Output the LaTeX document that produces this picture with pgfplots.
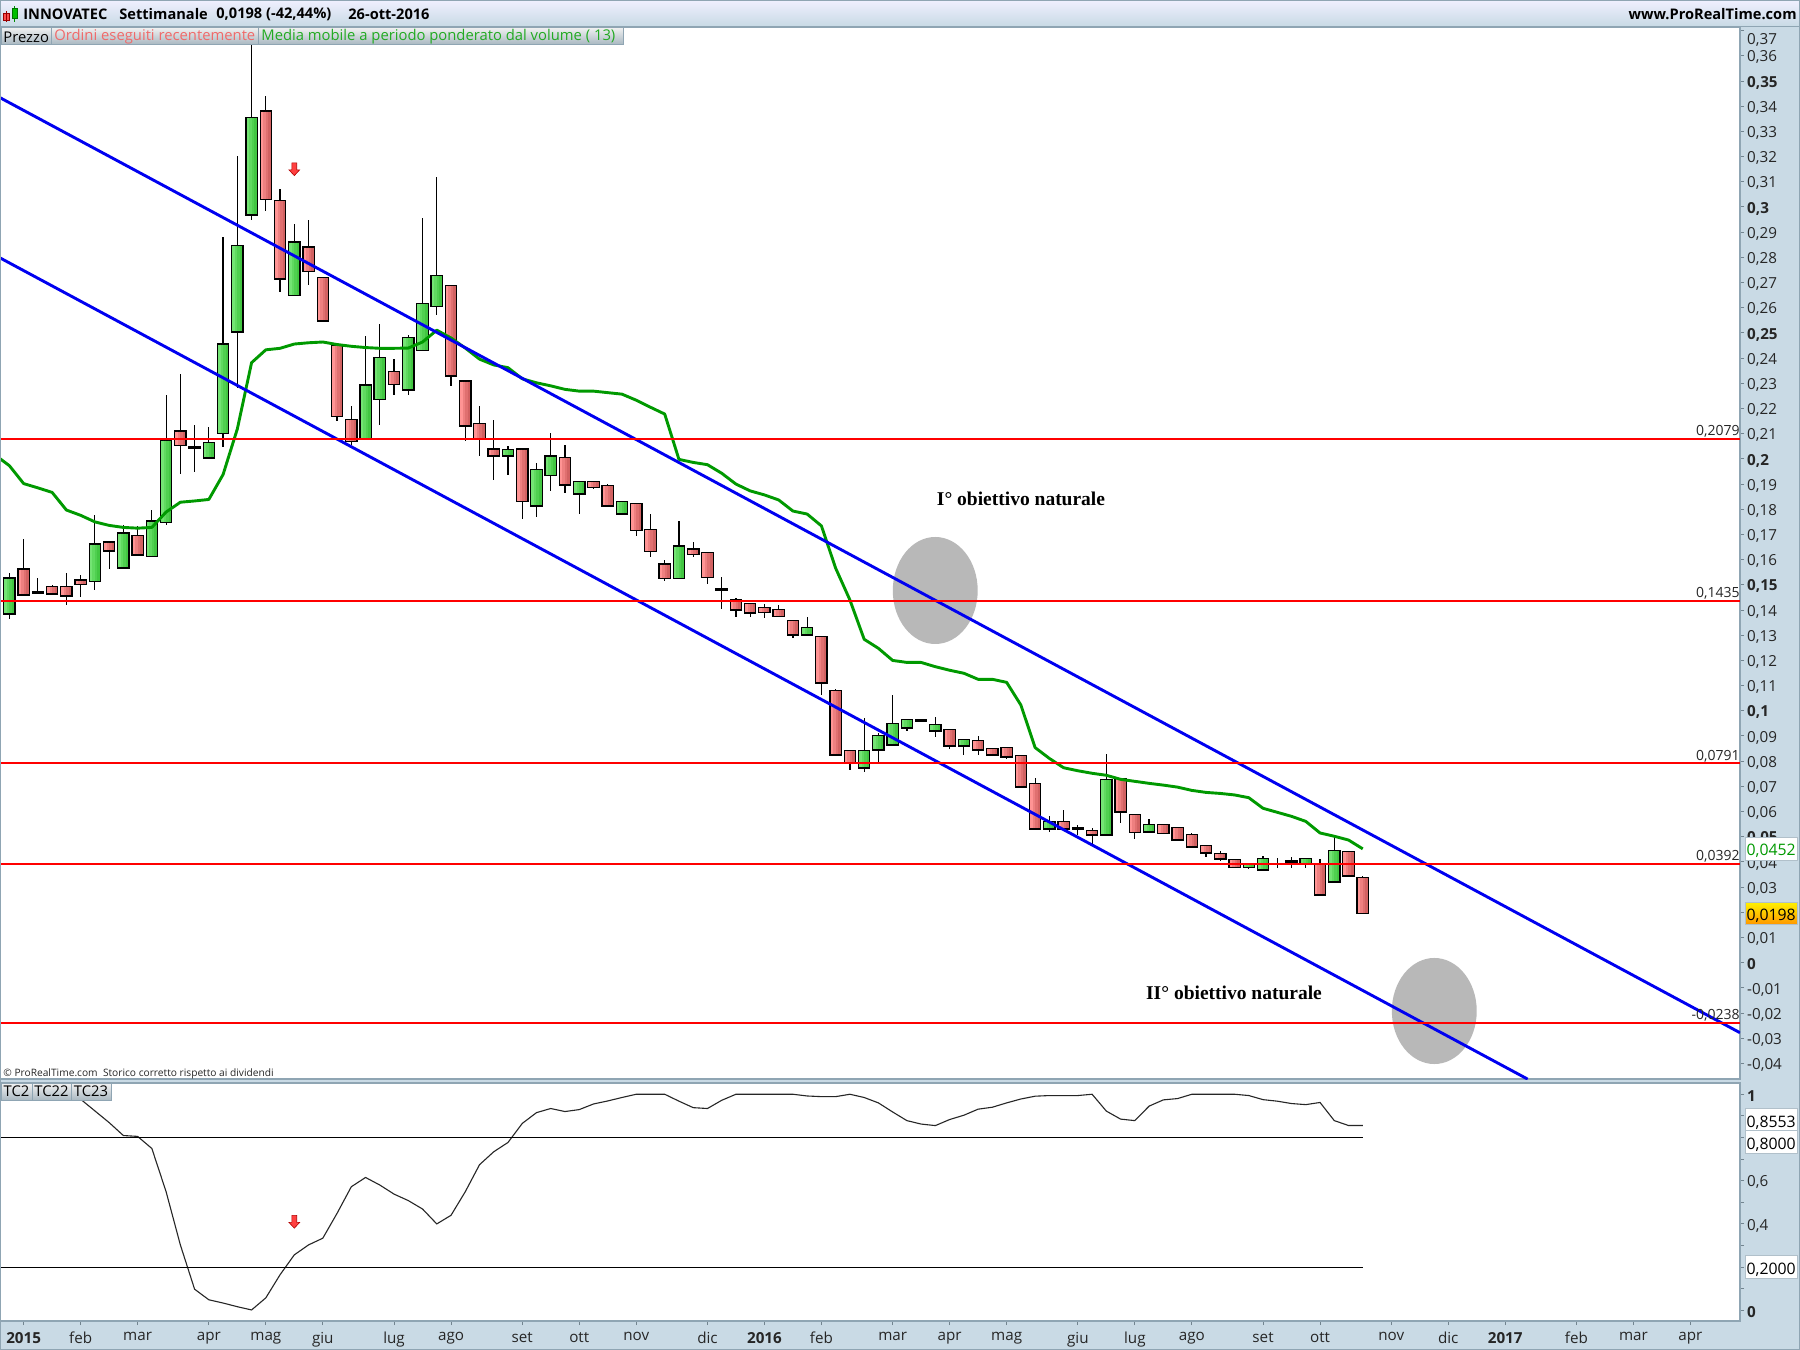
\documentclass[border=0pt]{standalone}
\usepackage{fontspec}
\usepackage{pgfplots}
\usepackage{pgfplotstable}
\pgfplotsset{compat=1.18}
\setmainfont{Open Sans}
\newfontfamily\notefont{Liberation Serif}

\definecolor{band}{HTML}{C9DAE5}
\definecolor{edge}{HTML}{8FA5B3}
\definecolor{mavg}{HTML}{009900}
\definecolor{chan}{HTML}{0000F0}
\definecolor{ordini}{HTML}{F06A6A}
\definecolor{mediatxt}{HTML}{22AA22}
\definecolor{gA}{HTML}{74E474}
\definecolor{gB}{HTML}{60DA60}
\definecolor{gC}{HTML}{50D050}
\definecolor{gD}{HTML}{42C642}
\definecolor{rA}{HTML}{FF9494}
\definecolor{rB}{HTML}{EE8080}
\definecolor{rC}{HTML}{E07070}
\definecolor{rD}{HTML}{D26262}

% weekly candles: i = week number, o h l c
\pgfplotstableread{
i o h l c
0 .1387 .1546 .1365 .1525
6 .1517 .1776 .1480 .1660
8 .1569 .1739 .1569 .1703
10 .1616 .1797 .1616 .1751
11 .1751 .2254 .1737 .2073
14 .2006 .2126 .2006 .2062
15 .2104 .2881 .2048 .2454
16 .2506 .3202 .2283 .2844
17 .2971 .3780 .2950 .3352
20 .2652 .2932 .2652 .2859
25 .2084 .2486 .2084 .2291
26 .2239 .2535 .2134 .2400
28 .2276 .2491 .2255 .2478
29 .2434 .2957 .2434 .2613
30 .2608 .3119 .2571 .2725
35 .2014 .2051 .1938 .2034
37 .1816 .1982 .1770 .1954
38 .1938 .2104 .1872 .2009
40 .1863 .1907 .1781 .1907
43 .1784 .1827 .1784 .1827
47 .1527 .1753 .1527 .1652
56 .1303 .1371 .1303 .1327
60 .0775 .0970 .0758 .0839
61 .0847 .0910 .0795 .0899
62 .0867 .1061 .0860 .0946
63 .0934 .0966 .0921 .0962
65 .0922 .0974 .0896 .0942
67 .0863 .0883 .0824 .0883
73 .0533 .0582 .0520 .0557
77 .0509 .0828 .0509 .0724
80 .0521 .0569 .0521 .0545
87 .0379 .0394 .0371 .0386
88 .0371 .0422 .0371 .0410
91 .0392 .0417 .0377 .0410
93 .0323 .0498 .0323 .0442
}\upcandles
\pgfplotstableread{
i o h l c
1 .1560 .1682 .1462 .1462
3 .1492 .1499 .1458 .1466
4 .1492 .1546 .1420 .1458
5 .1517 .1538 .1451 .1505
7 .1668 .1668 .1564 .1637
9 .1692 .1734 .1621 .1621
12 .2108 .2337 .1941 .2057
18 .3379 .3440 .2985 .3031
19 .3023 .3071 .2663 .2717
21 .2839 .2947 .2691 .2745
22 .2717 .2723 .2550 .2550
23 .2447 .2447 .2150 .2172
24 .2153 .2210 .2056 .2073
27 .2343 .2396 .2255 .2299
31 .2685 .2685 .2291 .2332
32 .2307 .2307 .2073 .2133
33 .2137 .2210 .2012 .2084
34 .2037 .2155 .1916 .2014
36 .2037 .2037 .1762 .1834
39 .2002 .2056 .1864 .1899
41 .1907 .1913 .1880 .1889
42 .1891 .1899 .1816 .1816
44 .1819 .1819 .1692 .1717
45 .1717 .1781 .1609 .1634
46 .1580 .1597 .1514 .1527
48 .1640 .1670 .1609 .1624
49 .1625 .1625 .1503 .1532
51 .1439 .1446 .1374 .1403
52 .1423 .1423 .1374 .1391
53 .1407 .1424 .1370 .1393
54 .1399 .1419 .1376 .1376
55 .1355 .1355 .1290 .1303
57 .1292 .1292 .1063 .1113
58 .1077 .1085 .0827 .0827
59 .0839 .0839 .0766 .0794
66 .0922 .0922 .0850 .0863
68 .0879 .0900 .0824 .0847
69 .0847 .0847 .0827 .0827
70 .0851 .0851 .0810 .0819
71 .0819 .0819 .0696 .0700
72 .0708 .0733 .0533 .0533
74 .0557 .0606 .0533 .0533
76 .0521 .0533 .0470 .0509
78 .0728 .0732 .0556 .0601
79 .0585 .0585 .0491 .0518
81 .0545 .0549 .0509 .0514
82 .0533 .0533 .0490 .0490
83 .0506 .0514 .0454 .0462
84 .0462 .0462 .0420 .0438
85 .0430 .0442 .0405 .0414
86 .0406 .0406 .0379 .0379
92 .0392 .0412 .0271 .0271
94 .0438 .0438 .0339 .0347
95 .0335 .0343 .0198 .0198
}\downcandles
\pgfplotstableread{
i o h l c
2 .1470 .1527 .1467 .1470
13 .2046 .2134 .1946 .2046
50 .1482 .1530 .1405 .1482
64 .0962 .0962 .0962 .0962
75 .0532 .0547 .0507 .0532
89 .0392 .0414 .0377 .0392
90 .0401 .0420 .0377 .0401
}\flatcandles

% volume weighted moving average (13)
\pgfplotstableread{
i v
-0.66 .2001
0 .1973
1 .1902
2 .1885
3 .1867
4 .1797
5 .1776
6 .1750
7 .1736
8 .1728
9 .1725
10 .1728
11 .1789
12 .1828
13 .1833
14 .1839
15 .1938
16 .2119
17 .2382
18 .2433
19 .2439
20 .2456
21 .2461
22 .2464
23 .2454
24 .2447
25 .2442
26 .2439
27 .2439
28 .2440
29 .2464
30 .2511
31 .2480
32 .2440
33 .2396
34 .2373
35 .2362
36 .2318
37 .2302
38 .2290
39 .2276
40 .2269
41 .2269
42 .2263
43 .2257
44 .2233
45 .2205
46 .2178
47 .1998
48 .1986
49 .1977
50 .1943
51 .1900
52 .1873
53 .1857
54 .1837
55 .1793
56 .1781
57 .1734
58 .1566
59 .1440
60 .1284
61 .1248
62 .1200
63 .1192
64 .1192
65 .1175
66 .1161
67 .1149
68 .1125
69 .1125
70 .1113
71 .1023
72 .0854
73 .0811
74 .0774
75 .0762
76 .0752
77 .0744
78 .0728
79 .0720
80 .0712
81 .0705
82 .0697
83 .0684
84 .0676
85 .0672
86 .0666
87 .0655
88 .0613
89 .0597
90 .0581
91 .0561
92 .0515
93 .0502
94 .0487
95 .0452
}\mavgdata

% lower panel indicator
\pgfplotstableread{
i v
4 1
5 .977
6 .923
7 .869
8 .809
9 .805
10 .749
11 .549
12 .303
13 .098
14 .049
15 .034
16 .017
17 .002
18 .058
19 .165
20 .257
21 .303
22 .334
23 .449
24 .572
25 .615
26 .580
27 .538
28 .508
29 .469
30 .400
31 .440
32 .549
33 .674
34 .734
35 .777
36 .865
37 .915
38 .934
39 .920
40 .929
41 .955
42 .969
43 .985
44 1
45 1
46 1
47 .968
48 .938
49 .934
50 .972
51 1
52 1
53 1
54 1
55 1
56 .992
57 .989
58 .989
59 1
60 .985
61 .960
62 .918
63 .878
64 .862
65 .855
66 .883
67 .903
68 .931
69 .940
70 .960
71 .978
72 .991
73 .994
74 .994
75 .994
76 1
77 .922
78 .885
79 .878
80 .945
81 .974
82 .980
83 1
84 1
85 1
86 1
87 .994
88 .975
89 .968
90 .957
91 .952
92 .962
93 .878
94 .8553
95 .8553
}\tcdata

\pgfdeclareplotmark{sellarrow}{%
  \pgfpathmoveto{\pgfpoint{-1.2pt}{3.2pt}}
  \pgfpathlineto{\pgfpoint{1.2pt}{3.2pt}}
  \pgfpathlineto{\pgfpoint{1.2pt}{-0.3pt}}
  \pgfpathlineto{\pgfpoint{2.7pt}{-0.3pt}}
  \pgfpathlineto{\pgfpoint{0pt}{-3.2pt}}
  \pgfpathlineto{\pgfpoint{-2.7pt}{-0.3pt}}
  \pgfpathlineto{\pgfpoint{-1.2pt}{-0.3pt}}
  \pgfpathclose
  \pgfusepathqfillstroke}
% an empty mark, for the candles only the error bars are wanted
\pgfdeclareplotmark{nothing}{}

% wick of every candle of a table
\newcommand{\wicks}[1]{%
  \addplot[only marks,mark=nothing,forget plot,
    error bars/.cd,y dir=both,y explicit,error mark=nothing,
    error bar style={draw=black,line width=.6pt}]
  table[x=i,y=c,y error plus expr={\thisrow{h}-\thisrow{c}},y error minus expr={\thisrow{c}-\thisrow{l}}] {#1};}
% black box round the body, one pixel or so beyond it
\newcommand{\bodybox}[1]{%
  \addplot[only marks,mark=nothing,forget plot,
    error bars/.cd,y dir=both,y explicit,error mark=nothing,
    error bar style={draw=black,line width=6.3pt}]
  table[x=i,y expr={max(\thisrow{o},\thisrow{c})},y error plus expr=0.0005,y error minus expr={abs(\thisrow{o}-\thisrow{c})+0.0005}] {#1};}
% one vertical strip of the body, four of them make the gradient
\newcommand{\bodystrip}[3]{%
  \addplot[only marks,mark=nothing,forget plot,
    error bars/.cd,y dir=both,y explicit,error mark=nothing,
    error bar style={draw=#2,line width=1.3pt,xshift=#3}]
  table[x=i,y expr={max(\thisrow{o},\thisrow{c})},y error plus expr=0,y error minus expr={abs(\thisrow{o}-\thisrow{c})}] {#1};}

\pgfplotsset{
  panel/.style={
    scale only axis,width=870pt,
    xmin=-0.66,xmax=121.48,
    axis background/.style={fill=white},
    axis line style={draw=edge,line width=.7pt},
    tick style={draw=edge!80!black,line width=.5pt},
    major tick length=2pt,
    tick align=outside,
    ytick pos=right,
    yticklabel pos=right,
    tick label style={font=\fontsize{7.6}{9}\selectfont,text=black!85},
    yticklabel style={anchor=west,inner sep=0pt,xshift=1.4pt,yshift=-0.8pt},
  },
}

\begin{document}
\begin{tikzpicture}[x=0.5pt,y=-0.5pt]
\useasboundingbox (0,0) rectangle (1800,1350);
\fill[band] (0,0) rectangle (1800,1350);
\shade[top color=blue!6!white,bottom color=band] (0,0) rectangle (1800,26);
\draw[edge,line width=.6pt] (0,26.5) -- (1800,26.5);

\begin{axis}[panel,
    at={(0pt,-539.5pt)},anchor=south west,height=526pt,
    ymin=-0.04617,ymax=0.37145,
    xtick=\empty,
    ytick={-0.04,-0.03,-0.02,-0.01,0,0.01,0.02,0.03,0.04,0.05,0.06,0.07,0.08,0.09,0.1,0.11,0.12,0.13,0.14,0.15,0.16,0.17,0.18,0.19,0.2,0.21,0.22,0.23,0.24,0.25,0.26,0.27,0.28,0.29,0.3,0.31,0.32,0.33,0.34,0.35,0.36,0.37},
    yticklabels={{-0,04},{-0,03},{-0,02},{-0,01},\textbf{0},{0,01},{0,02},{0,03},{0,04},\textbf{0,05},{0,06},{0,07},{0,08},{0,09},\textbf{0,1},{0,11},{0,12},{0,13},{0,14},\textbf{0,15},{0,16},{0,17},{0,18},{0,19},\textbf{0,2},{0,21},{0,22},{0,23},{0,24},\textbf{0,25},{0,26},{0,27},{0,28},{0,29},\textbf{0,3},{0,31},{0,32},{0,33},{0,34},\textbf{0,35},{0,36},\smash{\raisebox{-6.1pt}{0,37}}},
  ]
  % target zones
  \fill[black!28] (axis cs:64.99,.14776) ellipse [x radius=2.98,y radius=.02124];
  \fill[black!28] (axis cs:100.02,-.01917) ellipse [x radius=2.98,y radius=.02105];

  \wicks{\upcandles}
  \wicks{\downcandles}
  \wicks{\flatcandles}
  \bodybox{\upcandles}
  \bodystrip{\upcandles}{gA}{-1.875pt}
  \bodystrip{\upcandles}{gB}{-0.625pt}
  \bodystrip{\upcandles}{gC}{0.625pt}
  \bodystrip{\upcandles}{gD}{1.875pt}
  \bodybox{\downcandles}
  \bodystrip{\downcandles}{rA}{-1.875pt}
  \bodystrip{\downcandles}{rB}{-0.625pt}
  \bodystrip{\downcandles}{rC}{0.625pt}
  \bodystrip{\downcandles}{rD}{1.875pt}
  \bodybox{\flatcandles}

  \addplot[mavg,line width=1.45pt,line join=round,forget plot] table[x=i,y=v] {\mavgdata};

  % falling channel
  \addplot[chan,line width=1.45pt,forget plot] coordinates {(-0.66,.3434) (121.48,-.0278)};
  \addplot[chan,line width=1.45pt,forget plot] coordinates {(-0.66,.2798) (106.57,-.0462)};

  % levels
  \addplot[red,line width=1pt,forget plot] coordinates {(-0.66,.2079) (121.48,.2079)};
  \addplot[red,line width=1pt,forget plot] coordinates {(-0.66,.1435) (121.48,.1435)};
  \addplot[red,line width=1pt,forget plot] coordinates {(-0.66,.0791) (121.48,.0791)};
  \addplot[red,line width=1pt,forget plot] coordinates {(-0.66,.0392) (121.48,.0392)};
  \addplot[red,line width=1pt,forget plot] coordinates {(-0.66,-.0238) (121.48,-.0238)};

  % executed order
  \addplot[only marks,mark=sellarrow,mark options={fill=red!75!white,draw=red!70!black,line width=.3pt},forget plot]
    coordinates {(20,.315)};
\end{axis}

\begin{axis}[panel,
    at={(0pt,-660.5pt)},anchor=south west,height=119pt,
    ymin=-0.0492,ymax=1.052,
    xtick pos=bottom,
    xticklabel pos=bottom,
    xtick={1,5,9,14,18,22,27,31,36,40,44,49,53,57,62,66,70,75,79,83,88,92,97,101,105,110,114,118},
    xticklabels={\textbf{2015},feb,mar,apr,mag,giu,lug,ago,set,ott,nov,dic,\textbf{2016},feb,mar,apr,mag,giu,lug,ago,set,ott,nov,dic,\textbf{2017},feb,mar,apr},
    ytick={0,0.1,0.2,0.3,0.4,0.5,0.6,0.7,0.8,0.9,1},
    yticklabels={\textbf{0},,,,{0,4},,{0,6},,,,\textbf{1}},
  ]
  \addplot[black!85,line width=.55pt,forget plot] table[x=i,y=v] {\tcdata};
  \addplot[black,line width=.6pt,forget plot] coordinates {(-0.66,.8) (95,.8)};
  \addplot[black,line width=.6pt,forget plot] coordinates {(-0.66,.2) (95,.2)};
  \addplot[only marks,mark=sellarrow,mark options={fill=red!75!white,draw=red!70!black,line width=.3pt},forget plot]
    coordinates {(20,.41)};
\end{axis}

% top bar
\fill[red!70!white,draw=red!60!black,line width=.3pt] (3.7,13) rectangle (9.3,20);
\draw[red!60!black,line width=.4pt] (6.5,11) -- (6.5,22);
\draw[green!55!black,line width=.5pt] (14.7,6) -- (14.7,22);
\fill[green!75!black,draw=green!45!black,line width=.3pt] (12,8.7) rectangle (17.3,18.3);
\begin{scope}[every node/.style={inner sep=0pt,font=\fontsize{7.3}{10}\selectfont\bfseries,text=black}]
  \node[anchor=west] at (23,14) {INNOVATEC};
  \node[anchor=west] at (119,14) {Settimanale};
  \node[anchor=west] at (216,14) {0,0198 (-42,44\%)};
  \node[anchor=west] at (348,14) {26-ott-2016};
  \node[anchor=east] at (1797,14) {www.ProRealTime.com};
\end{scope}

% indicator titles
\begin{scope}[every node/.style={inner sep=0pt,font=\fontsize{7.4}{9}\selectfont}]
  \shade[top color=black!5,bottom color=band!85!black,draw=edge,line width=.4pt] (1,27) rectangle (51.5,44);
  \shade[top color=black!5,bottom color=band!85!black,draw=edge,line width=.4pt] (51.5,27) rectangle (258.5,44);
  \shade[top color=black!5,bottom color=band!85!black,draw=edge,line width=.4pt] (258.5,27) rectangle (623,44);
  \node[anchor=west] at (3,37) {Prezzo};
  \node[anchor=west,text=ordini] at (54,37) {Ordini eseguiti recentemente};
  \node[anchor=west,text=mediatxt] at (261,37) {Media mobile a periodo ponderato dal volume ( 13)};
  \shade[top color=black!5,bottom color=band!85!black,draw=edge,line width=.4pt] (1,1083) rectangle (32,1100);
  \shade[top color=black!5,bottom color=band!85!black,draw=edge,line width=.4pt] (32,1083) rectangle (71,1100);
  \shade[top color=black!5,bottom color=band!85!black,draw=edge,line width=.4pt] (71,1083) rectangle (111,1100);
  \node[anchor=center] at (16.5,1091.5) {TC2};
  \node[anchor=center] at (51.5,1091.5) {TC22};
  \node[anchor=center] at (91,1091.5) {TC23};
\end{scope}

% level labels
\begin{scope}[every node/.style={inner sep=0pt,anchor=east,font=\fontsize{7}{9}\selectfont,text=black!85}]
  \node at (1740,431) {0,2079};
  \node at (1740,593) {0,1435};
  \node at (1740,756) {0,0791};
  \node at (1740,856.5) {0,0392};
  \node at (1740,1015.5) {-0,0238};
\end{scope}

% value boxes on the price scale
\begin{scope}[every node/.style={inner sep=0pt,font=\fontsize{7.9}{9}\selectfont}]
  \draw[edge!70,line width=.4pt,fill=white] (1745.5,837) rectangle (1797,860);
  \node[text=mavg] at (1771.2,851) {0,0452};
  \shade[top color=yellow!90!orange,bottom color=orange!80!yellow,draw=edge!70,line width=.4pt] (1745.5,902) rectangle (1797,924);
  \node at (1771.2,916) {0,0198};
  \draw[edge!70,line width=.4pt,fill=white] (1745.5,1108.7) rectangle (1797,1130.7);
  \node at (1771.2,1122.5) {0,8553};
  \draw[edge!70,line width=.4pt,fill=white] (1745.5,1130.7) rectangle (1797,1153);
  \node at (1771.2,1145) {0,8000};
  \draw[edge!70,line width=.4pt,fill=white] (1745.5,1255.7) rectangle (1797,1278);
  \node at (1771.2,1270) {0,2000};
\end{scope}

% hand written notes
\node[anchor=center,inner sep=0pt,font=\notefont\fontsize{9.75}{11}\selectfont\bfseries] at (1021,499) {I° obiettivo naturale};
\node[anchor=center,inner sep=0pt,font=\notefont\fontsize{9.75}{11}\selectfont\bfseries] at (1234,993) {II° obiettivo naturale};

\node[anchor=west,inner sep=0pt,font=\fontsize{5.1}{6}\selectfont,text=black!85] at (3,1073.5) {© ProRealTime.com\ \ Storico corretto rispetto ai dividendi};

\draw[edge,line width=.5pt] (0.25,0.25) rectangle (1799.75,1349.75);
\end{tikzpicture}
\end{document}
